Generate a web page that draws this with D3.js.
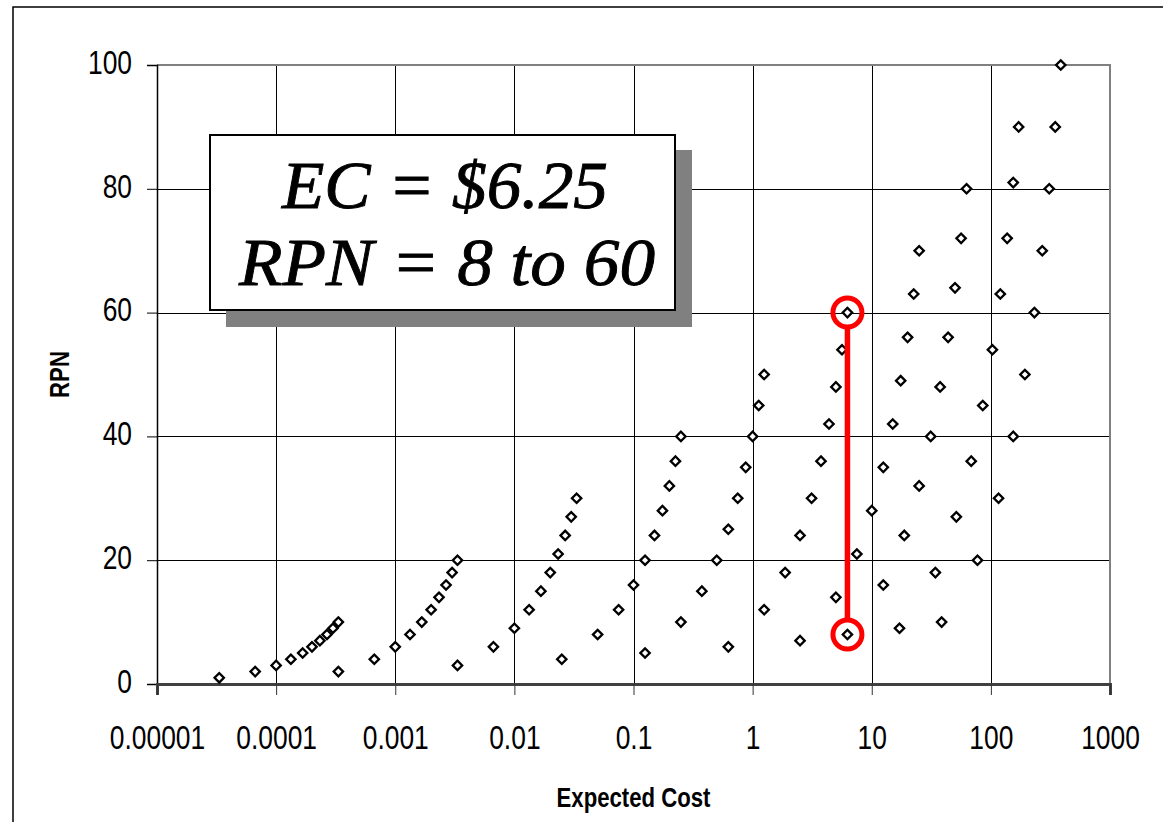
<!DOCTYPE html>
<html>
<head>
<meta charset="utf-8">
<script src="https://cdn.jsdelivr.net/npm/d3@7"></script>
<style>
  body { margin: 0; background: #fff; }
  svg { display: block; }
  .tick-label { font-family: "Liberation Sans", Arial, sans-serif; font-size: 33px; fill: #000; }
  .axis-title { font-family: "Liberation Sans", Arial, sans-serif; font-size: 27px; font-weight: bold; fill: #000; }
  .note { font-family: "Liberation Serif", "Times New Roman", serif; font-style: italic; font-size: 67px; fill: #000; stroke: #000; stroke-width: 0.9px; }
</style>
</head>
<body>
<svg width="1163" height="822"></svg>
<script>
const width = 1163;
const height = 822;
const margin = { left: 157, right: 1110, top: 65, bottom: 684 };

// expected cost values, one row per occurrence rating (1..10), columns = severity 1..10
const costRow1 = [0.0000333, 0.0000667, 0.0001, 0.000133, 0.000167, 0.0002, 0.000233, 0.000267, 0.0003, 0.000333];
const costRow2 = [0.000333, 0.000667, 0.001, 0.00133, 0.00167, 0.002, 0.00233, 0.00267, 0.003, 0.00333];
const costRow3 = [0.00333, 0.00667, 0.01, 0.0133, 0.0167, 0.02, 0.0233, 0.0267, 0.03, 0.0333];
const costRow4 = [0.025, 0.05, 0.075, 0.1, 0.125, 0.15, 0.175, 0.2, 0.225, 0.25];
const costRow5 = [0.125, 0.25, 0.375, 0.5, 0.625, 0.75, 0.875, 1, 1.125, 1.25];
const costRow6 = [0.625, 1.25, 1.875, 2.5, 3.125, 3.75, 4.375, 5, 5.625, 6.25];
const costRow7 = [2.5, 5, 7.5, 10, 12.5, 15, 17.5, 20, 22.5, 25];
const costRow8 = [6.25, 12.5, 18.75, 25, 31.25, 37.5, 43.75, 50, 56.25, 62.5];
const costRow9 = [17.1, 34.2, 51.3, 68.4, 85.5, 103, 120, 137, 154, 171];
const costRow10 = [38.6, 77.2, 116, 154, 193, 232, 270, 309, 347, 386];

// matching RPN values
const rpnRow1 = [1, 2, 3, 4, 5, 6, 7, 8, 9, 10];
const rpnRow2 = [2, 4, 6, 8, 10, 12, 14, 16, 18, 20];
const rpnRow3 = [3, 6, 9, 12, 15, 18, 21, 24, 27, 30];
const rpnRow4 = [4, 8, 12, 16, 20, 24, 28, 32, 36, 40];
const rpnRow5 = [5, 10, 15, 20, 25, 30, 35, 40, 45, 50];
const rpnRow6 = [6, 12, 18, 24, 30, 36, 42, 48, 54, 60];
const rpnRow7 = [7, 14, 21, 28, 35, 42, 49, 56, 63, 70];
const rpnRow8 = [8, 16, 24, 32, 40, 48, 56, 64, 72, 80];
const rpnRow9 = [9, 18, 27, 36, 45, 54, 63, 72, 81, 90];
const rpnRow10 = [10, 20, 30, 40, 50, 60, 70, 80, 90, 100];

const xTicks = [0.00001, 0.0001, 0.001, 0.01, 0.1, 1, 10, 100, 1000];
const xTickLabels = ["0.00001", "0.0001", "0.001", "0.01", "0.1", "1", "10", "100", "1000"];
const yTicks = [0, 20, 40, 60, 80, 100];

const highlightCost = 6.25;
const highlightRpn = [8, 60];
const noteLines = ["EC = $6.25", "RPN = 8 to 60"];

const costRows = [costRow1, costRow2, costRow3, costRow4, costRow5, costRow6, costRow7, costRow8, costRow9, costRow10];
const rpnRows = [rpnRow1, rpnRow2, rpnRow3, rpnRow4, rpnRow5, rpnRow6, rpnRow7, rpnRow8, rpnRow9, rpnRow10];
const points = costRows.flatMap((row, i) => row.map((c, j) => ({ cost: c, rpn: rpnRows[i][j] })));

const x = d3.scaleLog().domain([0.00001, 1000]).range([margin.left, margin.right]);
const y = d3.scaleLinear().domain([0, 100]).range([margin.bottom, margin.top]);

// squeeze text horizontally, like a narrow font
function narrow(sel, k) {
  sel.each(function() {
    const w = this.getComputedTextLength();
    d3.select(this).attr("textLength", w * k).attr("lengthAdjust", "spacingAndGlyphs");
  });
}

const svg = d3.select("svg");
svg.append("rect").attr("width", width).attr("height", height).attr("fill", "#fff");

// outer chart frame
svg.append("path")
  .attr("d", `M13,${height} V7 H${width}`)
  .attr("fill", "none").attr("stroke", "#000").attr("stroke-width", 1.5);

// grid
svg.append("g").selectAll("line.vgrid")
  .data(xTicks.slice(1, -1))
  .enter().append("line")
  .attr("x1", d => Math.round(x(d)) + 0.5).attr("x2", d => Math.round(x(d)) + 0.5)
  .attr("y1", margin.top).attr("y2", margin.bottom)
  .attr("stroke", "#000").attr("stroke-width", 1);

svg.append("g").selectAll("line.hgrid")
  .data(yTicks.slice(1, -1))
  .enter().append("line")
  .attr("x1", margin.left).attr("x2", margin.right)
  .attr("y1", d => Math.round(y(d)) + 0.5).attr("y2", d => Math.round(y(d)) + 0.5)
  .attr("stroke", "#000").attr("stroke-width", 1);

// plot border top/right (gray)
svg.append("path")
  .attr("d", `M${margin.left},${y(100)} H${x(1000)} V${margin.bottom}`)
  .attr("fill", "none").attr("stroke", "#808080").attr("stroke-width", 2);

// y axis
const yAxis = svg.append("g")
  .attr("transform", `translate(${margin.left},0)`)
  .call(d3.axisLeft(y).tickValues(yTicks).tickSize(10).tickPadding(15).tickFormat(d3.format("d")));
yAxis.attr("font-size", null).attr("font-family", null);
yAxis.select(".domain").attr("stroke", "#000").attr("stroke-width", 1.5);
yAxis.selectAll(".tick line").attr("stroke", "#000").attr("stroke-width", 1);
yAxis.selectAll(".tick text").attr("class", "tick-label").attr("dy", "0.25em").call(narrow, 0.8);

// x axis
const xAxis = svg.append("g")
  .attr("transform", `translate(0,${margin.bottom})`)
  .call(d3.axisBottom(x).tickValues(xTicks).tickSize(11).tickPadding(31)
    .tickFormat((d, i) => xTickLabels[i]));
xAxis.attr("font-size", null).attr("font-family", null);
xAxis.select(".domain").attr("stroke", "#404040").attr("stroke-width", 3);
xAxis.selectAll(".tick line").attr("stroke", "#333").attr("stroke-width", 1);
xAxis.selectAll(".tick text").attr("class", "tick-label").call(narrow, 0.8);

// axis titles
svg.append("text").attr("class", "axis-title")
  .attr("x", (margin.left + margin.right) / 2).attr("y", 807)
  .attr("text-anchor", "middle").text("Expected Cost").call(narrow, 0.82);

svg.append("text").attr("class", "axis-title")
  .attr("transform", `translate(69,${(margin.top + margin.bottom) / 2}) rotate(-90)`)
  .attr("text-anchor", "middle").text("RPN").call(narrow, 0.82);

// data points
const diamond = d3.symbol().type(d3.symbolSquare).size(44);
svg.append("g").selectAll("path.pt")
  .data(points)
  .enter().append("path")
  .attr("class", "pt")
  .attr("d", diamond)
  .attr("transform", d => `translate(${x(d.cost)},${y(d.rpn)}) rotate(45)`)
  .attr("fill", "#fff").attr("stroke", "#000").attr("stroke-width", 2.3);

// highlight range
const r = 14.5;
const hx = x(highlightCost);
svg.append("line")
  .attr("x1", hx).attr("x2", hx)
  .attr("y1", y(highlightRpn[1]) + r).attr("y2", y(highlightRpn[0]) - r)
  .attr("stroke", "#ff0000").attr("stroke-width", 5.5);
svg.append("g").selectAll("circle")
  .data(highlightRpn)
  .enter().append("circle")
  .attr("cx", hx).attr("cy", d => y(d)).attr("r", r)
  .attr("fill", "none").attr("stroke", "#ff0000").attr("stroke-width", 5);

// note box
svg.append("rect").attr("x", 226).attr("y", 150).attr("width", 466).attr("height", 177).attr("fill", "#808080");
svg.append("rect").attr("x", 210).attr("y", 135).attr("width", 465).attr("height", 175)
  .attr("fill", "#fff").attr("stroke", "#000").attr("stroke-width", 2);
svg.append("text").attr("class", "note")
  .attr("x", 445).attr("y", 208).attr("text-anchor", "middle")
  .attr("textLength", 326).attr("lengthAdjust", "spacingAndGlyphs")
  .text(noteLines[0]);
svg.append("text").attr("class", "note")
  .attr("x", 447).attr("y", 285).attr("text-anchor", "middle")
  .attr("textLength", 416).attr("lengthAdjust", "spacingAndGlyphs")
  .text(noteLines[1]);
</script>
</body>
</html>
